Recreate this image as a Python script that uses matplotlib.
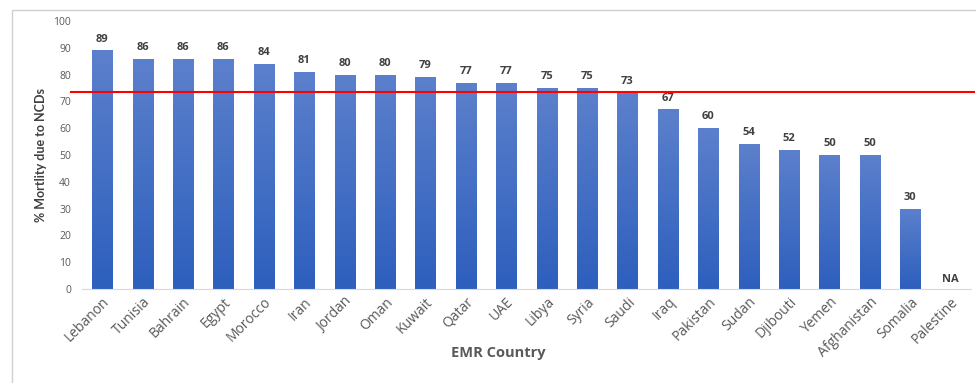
import matplotlib
matplotlib.use("Agg")
import matplotlib.pyplot as plt
import numpy as np
from matplotlib.colors import LinearSegmentedColormap
from matplotlib.patches import Rectangle

countries = ["Lebanon", "Tunisia", "Bahrain", "Egypt", "Morocco", "Iran", "Jordan", "Oman",
             "Kuwait", "Qatar", "UAE", "Libya", "Syria", "Saudi", "Iraq", "Pakistan", "Sudan",
             "Djibouti", "Yemen", "Afghanistan", "Somalia", "Palestine"]
values = [89, 86, 86, 86, 84, 81, 80, 80, 79, 77, 77, 75, 75, 73, 67, 60, 54, 52, 50, 50, 30, None]
reference_line = 73.5
yticks = [0, 10, 20, 30, 40, 50, 60, 70, 80, 90, 100]

plt.rcParams['font.family'] = ['Open Sans', 'DejaVu Sans']

fig = plt.figure(figsize=(9.76, 3.83), dpi=100)
# outer frame
fig.patches.append(Rectangle((12/976, -0.05), 1.0, (383-10)/383 + 0.05, transform=fig.transFigure,
                             fill=False, edgecolor='#d0d0d0', linewidth=1.0))
ax = fig.add_axes([82/976, (383-289)/383, 889/976, (289-21)/383])

cmap = LinearSegmentedColormap.from_list('g', ['#2d5fbd', '#5c80cc'])
grad = np.linspace(0, 1, 256).reshape(-1, 1)
x = np.arange(len(countries))
for i, v in enumerate(values):
    if v is None:
        ax.text(i, 1.5, "NA", ha='center', va='bottom', fontsize=8, fontweight='bold', color='#404040')
        continue
    bars = ax.bar(i, v, width=0.5, color='#4472c4', edgecolor='none', zorder=2)
    b = bars[0]
    im = ax.imshow(grad, extent=[i - 0.25, i + 0.25, 0, v], origin='lower', cmap=cmap,
                   aspect='auto', zorder=2.5)
    im.set_clip_path(b)
    ax.text(i, v + 2.2, str(v), ha='center', va='bottom', fontsize=8, fontweight='bold', color='#404040')

ax.axhline(reference_line, xmin=-0.012, xmax=1.003, color='#ff0000', linewidth=1.5, clip_on=False, zorder=4)

ax.set_xlim(-0.5, len(countries) - 0.5)
ax.set_ylim(0, 100)
ax.set_yticks(yticks)
ax.set_yticklabels([str(t) for t in yticks], fontsize=7.5, color='#595959')
ax.set_xticks(x)
ax.set_xticklabels(countries, rotation=45, ha='right', rotation_mode='anchor', fontsize=10, color='#595959')
ax.tick_params(axis='both', length=0)
ax.tick_params(axis='y', pad=8)
ax.tick_params(axis='x', pad=4)
for s in ['top', 'right', 'left']:
    ax.spines[s].set_visible(False)
ax.spines['bottom'].set_color('#d9d9d9')
ax.set_facecolor('none')

ax.set_ylabel("% Mortlity due to NCDs", fontsize=9, fontweight='bold', color='#404040',
              family=['Lato', 'DejaVu Sans'])
ax.yaxis.set_label_coords(-35/889, 0.5)
fig.text(498/976, 1 - 353/383, "EMR Country", ha='center', va='center', fontsize=10.5,
         fontweight='bold', color='#595959')

fig.savefig("out.png", dpi=100)
